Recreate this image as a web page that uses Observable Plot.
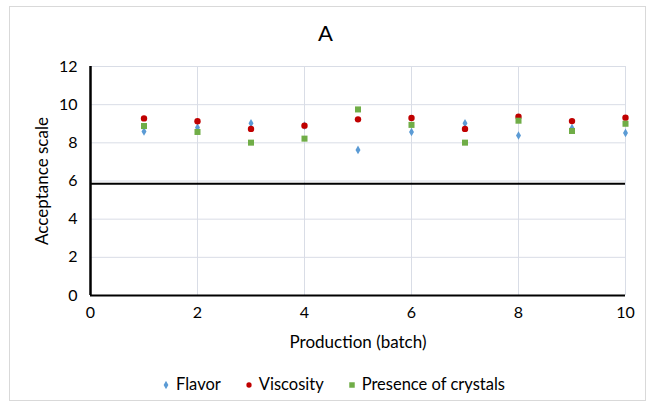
<!DOCTYPE html>
<html><head><meta charset="utf-8">
<script src="https://cdn.jsdelivr.net/npm/d3@7"></script>
<script src="https://cdn.jsdelivr.net/npm/@observablehq/plot@0.6"></script>
<style>
body{margin:0;background:#fff;font-family:Lato,"Open Sans",sans-serif;}
#frame{position:absolute;left:9px;top:6px;width:635px;height:393px;border:1px solid #d9d9d9;}
#title{position:absolute;left:0;width:651px;top:19px;text-align:center;font-size:22px;color:#000;}
#chart{position:absolute;left:0;top:50px;}
#legend{position:absolute;left:8px;width:651px;top:374px;text-align:center;font-size:16.5px;color:#000;}
#legend span.item{margin:0 12px;white-space:nowrap;}
#legend svg{vertical-align:middle;margin-right:6px;position:relative;top:-1px;}
</style></head>
<body>
<div id="frame"></div>
<div id="title">A</div>
<div id="chart"></div>
<div id="legend"></div>
<script>
const batches = [1,2,3,4,5,6,7,8,9,10];
const flavor =    [8.59,8.80,9.02,8.90,7.63,8.57,9.02,8.38,8.78,8.52];
const viscosity = [9.28,9.13,8.73,8.90,9.23,9.30,8.73,9.37,9.14,9.32];
const crystals =  [8.88,8.57,8.01,8.22,9.75,8.94,8.01,9.16,8.62,9.00];
const seriesNames = ["Flavor","Viscosity","Presence of crystals"];
const threshold = 5.85;
const xTicks = [0,2,4,6,8,10];
const yTicks = [0,2,4,6,8,10,12];

const colors = {"Flavor":"#5b9bd5","Viscosity":"#c00000","Presence of crystals":"#70ad47"};
const symbols = {"Flavor":"diamond","Viscosity":"circle","Presence of crystals":"square"};
const sizes = {"Flavor":2.6,"Viscosity":3.2,"Presence of crystals":3.4};

const rows = [];
[flavor, viscosity, crystals].forEach((arr, si) => {
  arr.forEach((v, i) => rows.push({batch: batches[i], value: v, series: seriesNames[si]}));
});

const chart = Plot.plot({
  width: 651,
  height: 305,
  marginLeft: 90,
  marginRight: 26,
  marginTop: 16,
  marginBottom: 60,
  style: {fontFamily: "Lato, 'Open Sans', sans-serif", fontSize: "16px", color: "#000", background: "transparent"},
  x: {domain: [0, 10], ticks: xTicks, tickSize: 0, tickPadding: 10, label: null},
  y: {domain: [0, 12], ticks: yTicks, tickSize: 0, tickPadding: 13, label: null},
  marks: [
    Plot.gridX(xTicks, {stroke: "#d9dde6", strokeOpacity: 1, strokeWidth: 1}),
    Plot.gridY(yTicks, {stroke: "#d9dde6", strokeOpacity: 1, strokeWidth: 1}),
    Plot.axisX({ticks: xTicks, tickSize: 0, tickPadding: 11, fontSize: 16, label: null}),
    Plot.axisY({ticks: yTicks, tickSize: 0, tickPadding: 13, fontSize: 16, label: null}),
    Plot.ruleY([threshold], {stroke: "#000", strokeWidth: 2}),
    Plot.ruleY([0], {stroke: "#000", strokeWidth: 2}),
    Plot.ruleX([0], {stroke: "#000", strokeWidth: 2.5}),
    ...seriesNames.map(s => Plot.dot(rows.filter(d => d.series === s), {
      x: "batch", y: "value", symbol: () => symbols[s], fill: colors[s], r: sizes[s], stroke: "none"
    })),
    Plot.text(["Production (batch)"], {frameAnchor: "bottom", dy: 52, fontSize: 17, fill: "#000"}),
    Plot.text(["Acceptance scale"], {frameAnchor: "left", textAnchor: "middle", dx: -48, rotate: -90, fontSize: 17, fill: "#000"})
  ],
  symbol: {domain: ["diamond","circle","square"], range: ["diamond","circle","square"]}
});
document.getElementById("chart").appendChild(chart);

// legend
const leg = document.getElementById("legend");
seriesNames.forEach(s => {
  const item = document.createElement("span");
  item.className = "item";
  const sym = d3.symbol(s === "Flavor" ? d3.symbolDiamond : s === "Viscosity" ? d3.symbolCircle : d3.symbolSquare, s === "Flavor" ? 20 : s === "Viscosity" ? 22 : 30)();
  item.innerHTML = `<svg width="8" height="8" viewBox="-4 -4 8 8"><path d="${sym}" fill="${colors[s]}"/></svg>${s}`;
  leg.appendChild(item);
});
</script>
</body></html>
